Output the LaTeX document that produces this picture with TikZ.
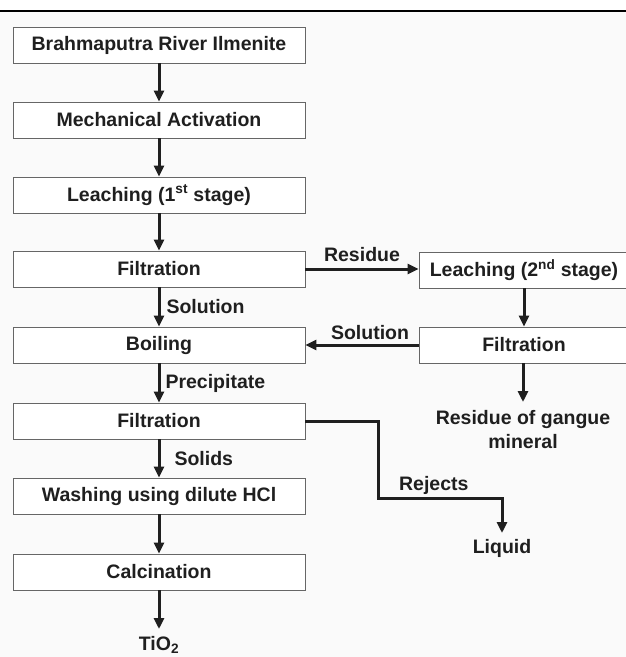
\documentclass[tikz,border=0pt]{standalone}
\usepackage{fontspec}
\setmainfont{Liberation Sans}
\usetikzlibrary{arrows.meta}
\tikzset{box/.style={draw=black!60, line width=0.9pt, fill=white, minimum height=36pt, inner sep=0pt, font=\bfseries\fontsize{19.5}{24}\selectfont, text=black!88},
  mainbox/.style={box, minimum width=292pt},
  sidebox/.style={box, minimum width=210pt},
  lbl/.style={font=\bfseries\fontsize{19.5}{24}\selectfont, inner sep=2pt, text=black!88},
  flow/.style={black!88, line width=3pt, -{Triangle[length=11pt,width=10pt]}}}

\begin{document}
\begin{tikzpicture}[x=1pt,y=-1pt]
    \useasboundingbox (0,0) rectangle (626,657);
    \clip (0,0) rectangle (626,657);
    \fill[black!2] (0,12) rectangle (626,657);
    %Rule
    \draw[line width=2.4pt] (0,11) -- (626,11);
    %Main line
    \node[mainbox] (ore) at (159,45) {Brahmaputra River Ilmenite};
    \node[mainbox] (act) at (159,120) {Mechanical Activation};
    \node[mainbox] (leach1) at (159,195) {Leaching (1\textsuperscript{st} stage)};
    \node[mainbox] (filt1) at (159,269) {Filtration};
    \node[mainbox] (boil) at (159,345) {Boiling};
    \node[mainbox] (filt2) at (159,421) {Filtration};
    \node[mainbox] (wash) at (159,496) {Washing using dilute HCl};
    \node[mainbox] (calc) at (159,572) {Calcination};
    \node[lbl, anchor=north, inner ysep=7pt] (tio) at (159,629) {TiO\textsubscript{2}};
    %Side line
    \node[sidebox] (leach2) at (524,270) {Leaching (2\textsuperscript{nd} stage)};
    \node[sidebox] (filt3) at (524,345) {Filtration};
    \node[lbl, anchor=north, align=center, inner ysep=8pt] (gangue) at (523,402) {Residue of gangue\\mineral};
    \node[lbl, anchor=north, inner ysep=6pt] (liq) at (502,533) {Liquid};
    \coordinate (bend) at (378,498);
    %Arrows
    \draw[flow] (ore) -- (act);
    \draw[flow] (act) -- (leach1);
    \draw[flow] (leach1) -- (filt1);
    \draw[flow] (filt1) -- node[lbl, right, xshift=4pt] {Solution} (boil);
    \draw[flow] (boil) -- node[lbl, right, xshift=3pt] {Precipitate} (filt2);
    \draw[flow] (filt2) -- node[lbl, right, xshift=12pt] {Solids} (wash);
    \draw[flow] (wash) -- (calc);
    \draw[flow] (calc) -- (tio);
    \draw[flow] (filt1.east) -- node[lbl, above, yshift=4pt] {Residue} (filt1.east -| leach2.west);
    \draw[flow] (leach2) -- (filt3);
    \draw[flow] (filt3.west) -- node[lbl, above, xshift=8pt, yshift=2pt] {Solution} (boil.east);
    \draw[flow] (filt3.south -| gangue) -- (gangue);
    \draw[flow] (filt2.east) -| (bend) -- node[lbl, above, pos=0.45] {Rejects} (bend -| liq) -- (liq);
\end{tikzpicture}
\end{document}
